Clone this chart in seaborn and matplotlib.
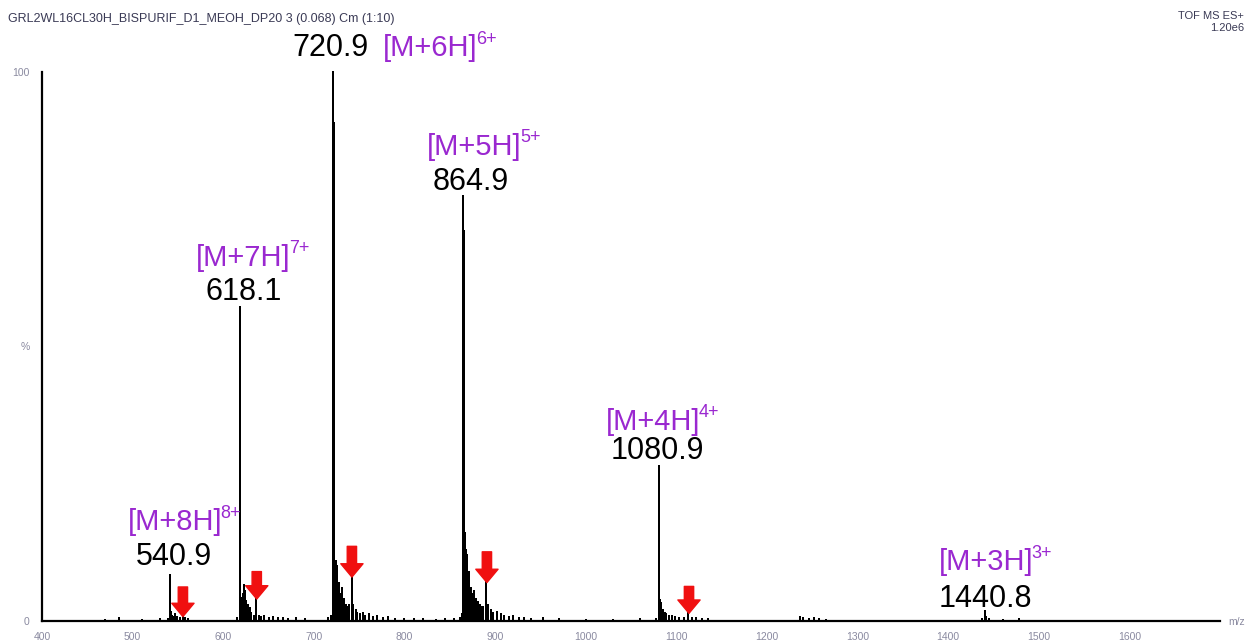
import matplotlib
matplotlib.use("Agg")
import matplotlib.pyplot as plt
import seaborn as sns
import pandas as pd
from matplotlib.ticker import MultipleLocator, FixedLocator

# ---------------- data ----------------
mz_noise_low = [470, 485, 510, 530]
int_noise_low = [0.2, 0.6, 0.2, 0.3]

mz_540 = [538.5, 540.9, 541.4, 542.2, 543.5, 545.0, 547.0, 549.5, 552.0, 555.5, 558.0, 561.0]
int_540 = [0.4, 8.4, 5.6, 1.6, 1.0, 0.8, 1.2, 0.7, 0.6, 0.9, 0.5, 0.3]

mz_618 = [615.5, 618.1, 618.8, 619.6, 620.5, 621.5, 622.5, 623.5, 624.5, 625.5, 627.0, 629.0,
          631.0, 634.0, 636.6, 639.0, 642.0, 645.0, 650.0, 655.0, 660.0, 666.0, 672.0, 680.0, 690.0]
int_618 = [0.5, 57.2, 46.5, 3.5, 4.2, 5.0, 6.5, 5.5, 4.0, 3.6, 3.0, 2.4,
           1.5, 1.0, 5.0, 1.0, 0.8, 1.0, 0.6, 0.7, 0.5, 0.6, 0.4, 0.5, 0.3]

mz_720 = [716.0, 718.5, 720.9, 721.7, 722.3, 723.0, 724.0, 725.0, 726.0, 727.0, 728.0, 729.5,
          731.0, 733.0, 735.0, 737.0, 739.0, 741.8, 743.5, 746.0, 748.0, 751.0, 754.0, 757.0,
          761.0, 765.0, 770.0, 776.0, 782.0, 790.0, 800.0]
int_720 = [0.5, 1.0, 100.0, 90.7, 12.0, 9.0, 11.0, 8.0, 10.0, 6.0, 7.0, 5.0,
           6.0, 4.0, 3.0, 2.5, 3.0, 9.3, 3.0, 2.0, 1.5, 1.2, 1.5, 1.0,
           1.2, 0.8, 0.9, 0.6, 0.7, 0.4, 0.3]

mz_mid_noise = [810, 820, 835, 845, 855]
int_mid_noise = [0.4, 0.3, 0.2, 0.3, 0.4]

mz_864 = [861.0, 863.0, 864.9, 865.8, 866.6, 867.5, 868.5, 869.5, 870.5, 871.5, 873.0, 875.0,
          877.0, 879.0, 881.0, 883.0, 885.0, 887.0, 890.5, 892.5, 895.0, 898.0, 902.0, 906.0,
          910.0, 915.0, 920.0, 926.0, 932.0, 940.0, 953.0]
int_864 = [0.5, 1.2, 77.4, 71.0, 16.0, 13.0, 11.0, 12.0, 8.0, 9.0, 6.0, 5.0,
           5.5, 4.0, 3.5, 3.0, 2.5, 2.5, 8.2, 3.0, 2.0, 1.5, 1.6, 1.2,
           1.0, 0.8, 0.9, 0.5, 0.6, 0.4, 0.6]

mz_high_noise = [970, 1000, 1030, 1060]
int_high_noise = [0.3, 0.2, 0.2, 0.3]

mz_1080 = [1078.0, 1080.9, 1081.8, 1082.6, 1083.5, 1085.0, 1087.0, 1089.0, 1092.0, 1095.0,
           1099.0, 1103.0, 1108.0, 1113.0, 1117.0, 1122.0, 1128.0, 1135.0]
int_1080 = [0.4, 28.2, 3.8, 3.2, 2.6, 2.0, 1.5, 1.2, 0.9, 1.0,
            0.7, 0.5, 0.6, 1.6, 0.5, 0.6, 0.4, 0.3]

mz_1240 = [1236, 1240, 1246, 1252, 1258, 1265]
int_1240 = [0.8, 0.5, 0.4, 0.5, 0.3, 0.2]

mz_1440 = [1437.0, 1440.8, 1442.0, 1445.0, 1460.0, 1478.0]
int_1440 = [0.3, 1.8, 0.7, 0.3, 0.2, 0.3]

# peak annotations: (number label, ion label, charge)
label_numbers = ["540.9", "618.1", "720.9", "864.9", "1080.9", "1440.8"]
label_ions = ["[M+8H]", "[M+7H]", "[M+6H]", "[M+5H]", "[M+4H]", "[M+3H]"]
label_charges = ["8+", "7+", "6+", "5+", "4+", "3+"]

# red arrow markers (m/z)
arrow_mz = [555.5, 637.0, 742.0, 891.0, 1114.0]
arrow_top = [6.2, 9.0, 13.6, 12.6, 6.3]
arrow_tip = [0.8, 4.0, 8.0, 7.0, 1.4]

x_ticks = [400, 500, 600, 700, 800, 900, 1000, 1100, 1200, 1300, 1400, 1500, 1600]

# ---------------- build stick profile ----------------
all_mz = (mz_noise_low + mz_540 + mz_618 + mz_720 + mz_mid_noise + mz_864 +
          mz_high_noise + mz_1080 + mz_1240 + mz_1440)
all_int = (int_noise_low + int_540 + int_618 + int_720 + int_mid_noise + int_864 +
           int_high_noise + int_1080 + int_1240 + int_1440)
rows = []
for m, h in sorted(zip(all_mz, all_int)):
    rows += [(m, 0.0), (m, h), (m, 0.0)]
df = pd.DataFrame(rows, columns=["mz", "intensity"])

# ---------------- figure ----------------
sns.set_style("white")
plt.rcParams["font.family"] = ["Liberation Sans", "DejaVu Sans"]

fig = plt.figure(figsize=(12.48, 6.42), dpi=100)
ax = fig.add_axes([42 / 1248, 21 / 642, (1220 - 42) / 1248, (621 - 72) / 642])

sns.lineplot(data=df, x="mz", y="intensity", sort=False, estimator=None,
             color="black", linewidth=1.3, ax=ax)
for l in ax.lines:
    l.set_clip_on(False)

ax.set_xlim(400, 1700)
ax.set_ylim(0, 100)
ax.set_xlabel("")
ax.set_ylabel("")

for s in ["top", "right"]:
    ax.spines[s].set_visible(False)
for s in ["left", "bottom"]:
    ax.spines[s].set_color("black")
    ax.spines[s].set_linewidth(1.6)

ax.xaxis.set_major_locator(FixedLocator(x_ticks))
ax.xaxis.set_minor_locator(MultipleLocator(10))
ax.yaxis.set_major_locator(FixedLocator([0, 50, 100]))
ax.yaxis.set_minor_locator(MultipleLocator(10))
ax.set_yticklabels(["0", "%", "100"])
ax.tick_params(axis="both", which="major", direction="out", length=7, width=1.3,
               color="black", labelsize=7.5, labelcolor="#8a8aa0", pad=2)
ax.tick_params(axis="both", which="minor", direction="out", length=4.5, width=1.1,
               color="black")
ax.tick_params(axis="x", which="major", pad=1)

fig.text(1228 / 1248, 1 - 622 / 642, "m/z", fontsize=7.5, color="#8a8aa0",
         ha="left", va="center")

# header texts
fig.text(8 / 1248, 1 - 19 / 642, "GRL2WL16CL30H_BISPURIF_D1_MEOH_DP20 3 (0.068) Cm (1:10)",
         fontsize=9, color="#3a3a55", ha="left", va="center")
fig.text(1244 / 1248, 1 - 16 / 642, "TOF MS ES+", fontsize=8, color="#3a3a55",
         ha="right", va="center")
fig.text(1244 / 1248, 1 - 28 / 642, "1.20e6", fontsize=8, color="#3a3a55",
         ha="right", va="center")

purple = "#9A28D0"
num_pos = [(545.7, 11.6), (623.0, 60.0), (717.9, 104.3), (873.5, 80.0), (1078.8, 30.9), (1440.8, 4.0)]
ion_pos = [(546.5, 18.0), (622.0, 66.2), (776.4, 104.3), (877.0, 86.4), (1074.0, 36.3), (1441.5, 10.7)]
ion_ha = ["center", "center", "left", "center", "center", "center"]

for num, ion, ch, (nx, ny), (ix, iy), ha in zip(label_numbers, label_ions, label_charges,
                                                 num_pos, ion_pos, ion_ha):
    ax.text(nx, ny, num, fontsize=22, color="black", ha="center", va="center", clip_on=False)
    t = ax.text(ix, iy, ion, fontsize=21, color=purple, ha=ha, va="center", clip_on=False)
    ax.annotate(ch, xy=(0.985, 0.82), xycoords=t, fontsize=13, color=purple,
                ha="left", va="center", annotation_clip=False)

for m, top, b in zip(arrow_mz, arrow_top, arrow_tip):
    ax.annotate("", xy=(m, b), xytext=(m, top),
                arrowprops=dict(arrowstyle="simple,head_length=0.6,head_width=1.0,tail_width=0.42",
                                color="#F01010", mutation_scale=16, shrinkA=0, shrinkB=0),
                annotation_clip=False)

fig.savefig("out.png", dpi=100)
